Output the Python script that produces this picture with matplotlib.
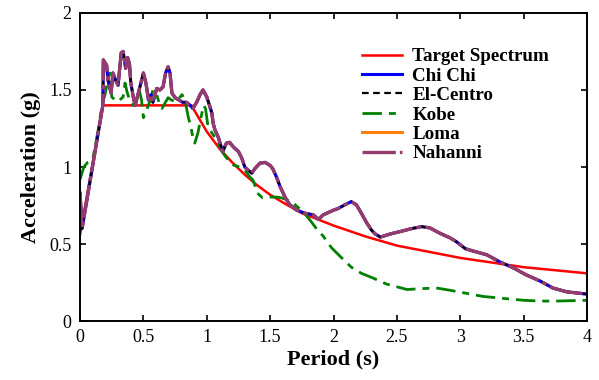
import matplotlib
matplotlib.use("Agg")
import matplotlib.pyplot as plt
from matplotlib.ticker import FuncFormatter

plt.rcParams['font.family'] = ['Liberation Serif', 'DejaVu Serif']

# target design spectrum
target_T = [0.0, 0.18, 0.88, 0.9, 1.0, 1.1, 1.2, 1.3, 1.4, 1.5, 1.6, 1.75, 1.8, 2.0,
            2.25, 2.5, 2.75, 3.0, 3.25, 3.5, 3.75, 4.0]
target_Sa = [0.56, 1.40, 1.40, 1.37, 1.23, 1.12, 1.03, 0.95, 0.88, 0.82, 0.77, 0.70,
             0.685, 0.62, 0.55, 0.49, 0.45, 0.41, 0.38, 0.35, 0.33, 0.31]

# matched records (Chi Chi, El-Centro, Loma, Nahanni lie on top of each other)
match_T = [0.0, 0.016, 0.18, 0.184, 0.21, 0.22, 0.245, 0.26, 0.28, 0.30, 0.325, 0.34,
           0.36, 0.375, 0.39, 0.40, 0.42, 0.435, 0.46, 0.50, 0.52, 0.54, 0.56, 0.575,
           0.605, 0.63, 0.655, 0.675, 0.695, 0.71, 0.725, 0.75, 0.78, 0.81, 0.84,
           0.87, 0.89, 0.92, 0.947, 0.97, 1.0, 1.025, 1.04, 1.05, 1.065, 1.09, 1.105,
           1.125, 1.155, 1.18, 1.21, 1.25, 1.275, 1.30, 1.325, 1.355, 1.38, 1.42,
           1.46, 1.50, 1.52, 1.55, 1.58, 1.62, 1.655, 1.71, 1.775, 1.84, 1.88, 1.92,
           2.0, 2.035, 2.09, 2.14, 2.18, 2.22, 2.26, 2.30, 2.33, 2.37, 2.445, 2.52,
           2.615, 2.695, 2.76, 2.84, 2.92, 2.97, 3.04, 3.10, 3.21, 3.31, 3.42, 3.52,
           3.63, 3.73, 3.84, 4.0]
match_Sa = [0.83, 0.60, 1.40, 1.695, 1.66, 1.565, 1.48, 1.61, 1.565, 1.53, 1.74, 1.75,
            1.64, 1.71, 1.67, 1.55, 1.455, 1.40, 1.48, 1.61, 1.545, 1.435, 1.47, 1.42,
            1.51, 1.50, 1.52, 1.61, 1.65, 1.61, 1.48, 1.45, 1.435, 1.42, 1.42,
            1.40, 1.38, 1.42, 1.47, 1.50, 1.455, 1.39, 1.35, 1.285, 1.24, 1.195, 1.155,
            1.10, 1.155, 1.16, 1.13, 1.10, 1.06, 1.0, 0.98, 0.96, 0.99, 1.025,
            1.03, 1.01, 0.99, 0.935, 0.87, 0.80, 0.755, 0.72, 0.70, 0.69, 0.66, 0.69,
            0.72, 0.73, 0.755, 0.775, 0.755, 0.70, 0.64, 0.59, 0.565, 0.545, 0.565, 0.58,
            0.60, 0.613, 0.605, 0.57, 0.54, 0.515, 0.47, 0.455, 0.43, 0.385, 0.345, 0.30,
            0.26, 0.215, 0.19, 0.175]

# Kobe record
kobe_T = [0.0, 0.03, 0.06, 0.10, 0.15, 0.17, 0.197, 0.22, 0.237, 0.25, 0.276, 0.30,
          0.34, 0.355, 0.37, 0.395, 0.42, 0.45, 0.47, 0.485, 0.50, 0.525, 0.55, 0.575,
          0.605, 0.63, 0.647, 0.67, 0.695, 0.72, 0.75, 0.79, 0.805, 0.83, 0.855,
          0.875, 0.89, 0.905, 0.93, 0.955, 0.975, 0.99, 1.01, 1.05, 1.09, 1.12, 1.155,
          1.21, 1.26, 1.30, 1.34, 1.365, 1.40, 1.44, 1.50, 1.55, 1.59, 1.67, 1.71,
          1.76, 1.815, 1.865, 1.92, 1.985, 2.065, 2.14, 2.22, 2.31, 2.42, 2.58, 2.68,
          2.81, 2.92, 3.05, 3.18, 3.37, 3.50, 3.63, 3.76, 4.0]
kobe_Sa = [0.92, 1.0, 1.03, 1.05, 1.27, 1.39, 1.47, 1.565, 1.61, 1.455, 1.435, 1.425,
           1.455, 1.545, 1.49, 1.425, 1.40, 1.425, 1.49, 1.435, 1.32, 1.37, 1.425, 1.50,
           1.47, 1.40, 1.38, 1.415, 1.45, 1.435, 1.425, 1.455, 1.47, 1.425, 1.32,
           1.26, 1.19, 1.155, 1.22, 1.325, 1.40, 1.38, 1.26, 1.21, 1.155, 1.10, 1.06,
           1.013, 1.0, 0.98, 0.935, 0.915, 0.83, 0.80, 0.805, 0.805, 0.80, 0.775, 0.745,
           0.71, 0.655, 0.60, 0.55, 0.475, 0.41, 0.35, 0.31, 0.28, 0.24, 0.205, 0.21,
           0.215, 0.20, 0.18, 0.16, 0.145, 0.135, 0.13, 0.13, 0.135]

fig = plt.figure(figsize=(5.99, 3.80), dpi=100)
ax = fig.add_axes([0.1336, 0.155, 0.8464, 0.811])

ax.plot(target_T, target_Sa, color='#ff0000', lw=1.8, label='Target Spectrum', zorder=2.0)
ax.plot(match_T, match_Sa, color='#0000ff', lw=2.2, label='Chi Chi', zorder=2.2)
ax.plot(match_T, match_Sa, color='black', lw=1.6, ls=(0, (3, 2)), label='El-Centro', zorder=2.3)
ax.plot(kobe_T, kobe_Sa, color='#008000', lw=2.0, ls=(0, (7, 2.5, 2.5, 2.5)), label='Kobe', zorder=2.05)
ax.plot(match_T, match_Sa, color='#ff7f0e', lw=2.2, label='Loma', zorder=2.1)
ax.plot(match_T, match_Sa, color='#943c6e', lw=2.4, ls=(0, (10, 1.2, 1.5, 1.2)), label='Nahanni', zorder=2.4)

ax.set_xlim(0, 4)
ax.set_ylim(0, 2)
ax.set_xticks([0, 0.5, 1, 1.5, 2, 2.5, 3, 3.5, 4])
ax.set_yticks([0, 0.5, 1, 1.5, 2])
fmt = FuncFormatter(lambda v, p: '%g' % v)
ax.xaxis.set_major_formatter(fmt)
ax.yaxis.set_major_formatter(fmt)
ax.tick_params(direction='in', top=True, right=True, length=4, width=1.2,
               labelsize=13, pad=6)
for s in ax.spines.values():
    s.set_linewidth(1.4)

ax.set_xlabel('Period (s)', fontsize=16, fontweight='bold', labelpad=2)
ax.set_ylabel('Acceleration (g)', fontsize=16, fontweight='bold', labelpad=6)

leg = ax.legend(loc='upper left', bbox_to_anchor=(362 / 599, 1 - 48 / 380),
                bbox_transform=fig.transFigure, frameon=False, borderpad=0,
                borderaxespad=0, prop={'size': 13.7, 'weight': 'bold'},
                handlelength=2.1, handletextpad=0.55, labelspacing=0.11)

fig.savefig('out.png', dpi=100)
